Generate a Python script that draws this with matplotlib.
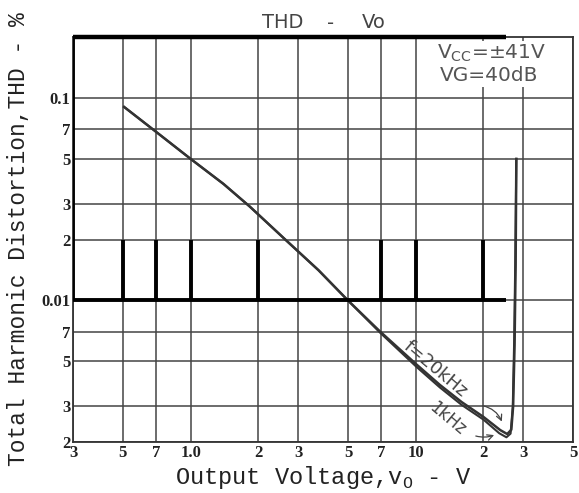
import matplotlib.pyplot as plt
from matplotlib.ticker import FixedLocator, FixedFormatter, NullLocator

# THD vs output voltage
v_20k = [0.506, 0.7, 1.0, 1.4, 1.83, 2.67, 3.7, 5, 6.93, 10.1, 12.8, 16, 20, 23.75, 25.5,
         26.6, 27.1, 27.5, 27.8, 28.0]
thd_20k = [0.0903, 0.0682, 0.05, 0.0376, 0.0291, 0.0197, 0.0141, 0.01, 0.00704, 0.00482,
           0.00383, 0.00315, 0.00266, 0.00229, 0.00219, 0.0023, 0.003, 0.006, 0.015, 0.05]
v_1k = [0.506, 0.7, 1.0, 1.4, 1.83, 2.67, 3.7, 5, 6.93, 10.1, 12.8, 16, 20, 23.5, 25.3,
        26.4, 27.0, 27.4, 27.7, 28.0]
thd_1k = [0.0903, 0.0682, 0.05, 0.0376, 0.0291, 0.0197, 0.0141, 0.01, 0.00695, 0.00469,
          0.00372, 0.00305, 0.00258, 0.00221, 0.00211, 0.0022, 0.003, 0.0065, 0.016, 0.05]

x_ticks = [0.3, 0.5, 0.7, 1.0, 2, 3, 5, 7, 10, 20, 30, 50]
x_labels = ['3', '5', '7', '1.0', '2', '3', '5', '7', '10', '2', '3', '5']
y_ticks = [0.002, 0.003, 0.005, 0.007, 0.01, 0.02, 0.03, 0.05, 0.07, 0.1]
y_labels = ['2', '3', '5', '7', '0.01', '2', '3', '5', '7', '0.1']

# thick black overlay marks seen on the scan
mark_x = [0.5, 0.7, 1.0, 2, 7, 10, 20]

fig = plt.figure(figsize=(5.79, 4.93), dpi=100)
ax = fig.add_axes([73/579, 1 - 442/493, 500/579, 405/493])
ax.set_xscale('log')
ax.set_yscale('log')
ax.set_xlim(0.3, 50)
ax.set_ylim(0.002, 0.2)

ax.xaxis.set_major_locator(FixedLocator(x_ticks))
ax.xaxis.set_major_formatter(FixedFormatter(x_labels))
ax.yaxis.set_major_locator(FixedLocator(y_ticks))
ax.yaxis.set_major_formatter(FixedFormatter(y_labels))
ax.xaxis.set_minor_locator(NullLocator())
ax.yaxis.set_minor_locator(NullLocator())
ax.tick_params(length=0, labelsize=12, colors='#222', pad=2)
for lab in ax.get_xticklabels() + ax.get_yticklabels():
    lab.set_family('Liberation Serif')
    lab.set_weight('bold')

ax.grid(True, color='#444', lw=1.1)
for s in ax.spines.values():
    s.set_color('#333')
    s.set_linewidth(1.3)

ax.plot(v_20k, thd_20k, color='#333', lw=1.8)
ax.plot(v_1k, thd_1k, color='#333', lw=1.5)

# overlay marks
ax.vlines(mark_x, 0.01, 0.02, color='black', lw=2.8, zorder=4)
ax.vlines([0.3], 0.01, 0.2, color='black', lw=2.8, zorder=4)
ax.hlines(0.01, 0.3, 25.2, color='black', lw=2.8, zorder=4)
ax.hlines(0.2, 0.3, 25.2, color='black', lw=3.2, zorder=4, clip_on=False)

ax.text(12.2, 0.0046, 'f=20kHz', rotation=-40, ha='center', va='center',
        fontsize=13, color='#444', rotation_mode='anchor')
ax.text(13.8, 0.00262, '1kHz', rotation=-40, ha='center', va='center',
        fontsize=12, color='#444', rotation_mode='anchor')
ax.annotate('', xy=(24.4, 0.00245), xytext=(19.3, 0.00304),
            arrowprops=dict(arrowstyle='->', color='#444', lw=0.9,
                            connectionstyle='arc3,rad=-0.3'))
ax.annotate('', xy=(22.9, 0.00219), xytext=(18.0, 0.00216),
            arrowprops=dict(arrowstyle='->', color='#444', lw=0.9,
                            connectionstyle='arc3,rad=0.2'))

ax.text(12.4, 0.157, 'V$_{\\mathregular{CC}}$=±41V', fontsize=14.5, color='#555',
        va='baseline', bbox=dict(facecolor='white', edgecolor='none', pad=1), zorder=5)
ax.text(12.8, 0.121, 'VG=40dB', fontsize=14.5, color='#555', va='baseline',
        bbox=dict(facecolor='white', edgecolor='none', pad=1), zorder=5)

fig.text(262/579, 1 - 22/493, 'THD', fontsize=14, color='#444', va='center')
fig.text(327/579, 1 - 24/493, '-', fontsize=14, color='#444', va='center')
fig.text(362/579, 1 - 22/493, 'Vo', fontsize=14, color='#444', va='center')

ax.set_xlabel('Output Voltage,v$_{\\mathregular{O}}$ - V', family='Liberation Mono',
              fontsize=17, color='#222', labelpad=2)
ax.set_ylabel('Total Harmonic Distortion,THD - %', family='Liberation Mono',
              fontsize=16.5, color='#222', labelpad=8)

fig.savefig('out.png', dpi=100)
